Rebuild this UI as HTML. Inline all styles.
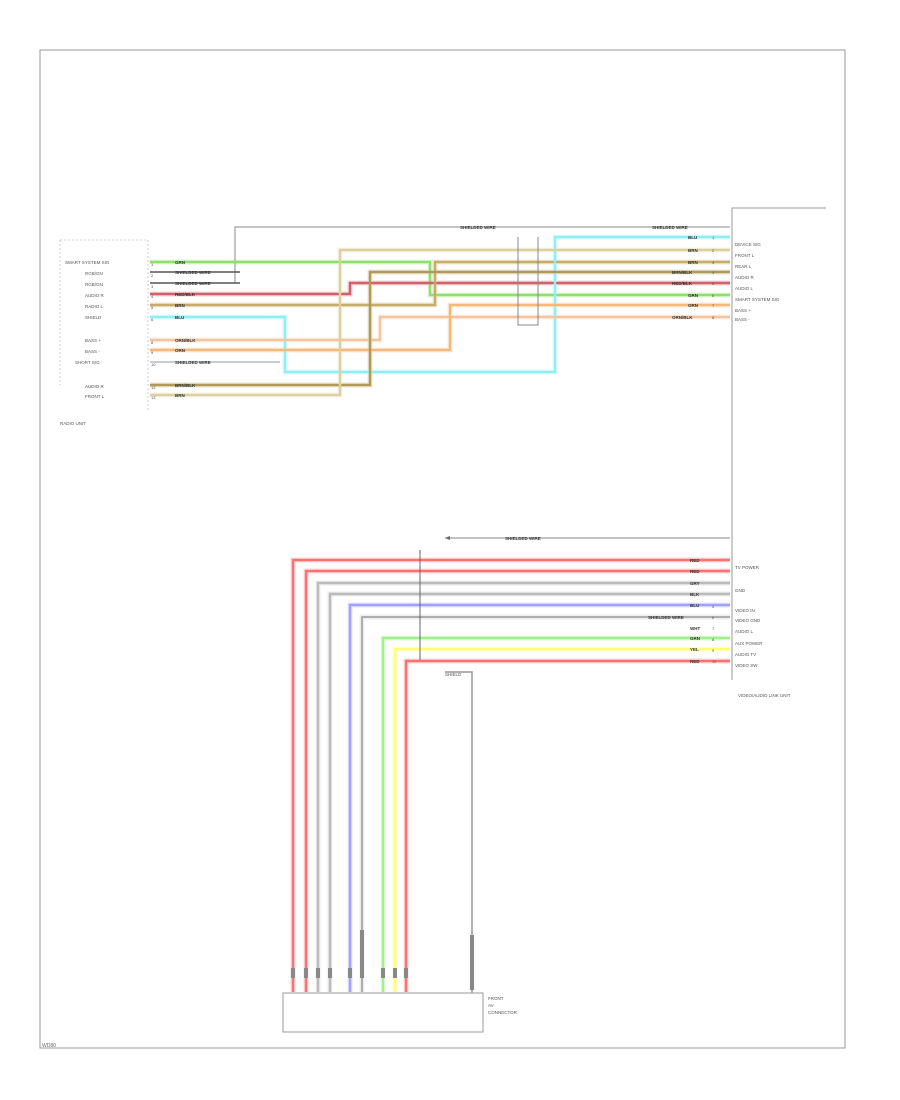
<!DOCTYPE html>
<html><head><meta charset="utf-8"><style>
html,body{margin:0;padding:0;background:#fff;}
svg{display:block;font-family:"Liberation Sans",sans-serif;}
</style></head><body>
<svg width="900" height="1100" viewBox="0 0 900 1100" xmlns="http://www.w3.org/2000/svg">
<rect x="40" y="50" width="805" height="998" fill="none" stroke="#999" stroke-width="1"/>
<text x="42" y="1047" font-size="5" fill="#666">WD80</text>
<line x1="148" y1="240" x2="148" y2="410" stroke="#ccc" stroke-dasharray="2,2"/>
<line x1="60" y1="240" x2="148" y2="240" stroke="#ccc" stroke-dasharray="2,2"/>
<line x1="60" y1="240" x2="60" y2="385" stroke="#ccc" stroke-dasharray="2,2"/>
<g font-size="4.5" fill="#555">
<text x="65" y="264">SMART SYSTEM SIG</text><text x="85" y="275">RGB/GN</text><text x="85" y="286">RGB/GN</text>
<text x="85" y="297">AUDIO R</text><text x="85" y="308">RADIO L</text><text x="85" y="319">SHIELD</text>
<text x="85" y="342">BASS +</text><text x="85" y="353">BASS -</text><text x="75" y="364">SHORT SIG</text>
<text x="85" y="388">AUDIO R</text><text x="85" y="398">FRONT L</text><text x="60" y="425">RADIO UNIT</text>
<text x="735" y="246">DEVICE SIG</text><text x="735" y="257">FRONT L</text><text x="735" y="268">REAR L</text>
<text x="735" y="279">AUDIO R</text><text x="735" y="290">AUDIO L</text><text x="735" y="301">SMART SYSTEM SIG</text>
<text x="735" y="312">BASS +</text><text x="735" y="321">BASS -</text>
<text x="735" y="569">TV POWER</text><text x="735" y="592">GND</text><text x="735" y="612">VIDEO IN</text>
<text x="735" y="622">VIDEO GND</text><text x="735" y="633">AUDIO L</text><text x="735" y="645">AUX POWER</text>
<text x="735" y="656">AUDIO TV</text><text x="735" y="667">VIDEO SW</text>
<text x="738" y="697">VIDEO/AUDIO LINK UNIT</text>
<text x="445" y="676">SHIELD</text>
<text x="488" y="1000">FRONT</text><text x="488" y="1007">AV</text><text x="488" y="1014">CONNECTOR</text>
</g>
<path d="M826 208 H732 V680" fill="none" stroke="#999"/>
<g fill="none" stroke-width="5" opacity="0.25">
<path d="M150 262 H430 V295 H730" stroke="#8ee06a"/>
<path d="M150 294 H350 V283 H730" stroke="#d0606a"/>
<path d="M150 305 H435 V262 H730" stroke="#c8aa6a"/>
<path d="M150 317 H285 V372 H555 V237 H730" stroke="#8ef0f4"/>
<path d="M150 340 H380 V317 H730" stroke="#f4c4a0"/>
<path d="M150 350 H450 V305 H730" stroke="#f4b878"/>
<path d="M150 385 H370 V272 H730" stroke="#b09a58"/>
<path d="M150 395 H340 V250 H730" stroke="#ddd0a0"/>
<path d="M730 560 H293 V992" stroke="#ff7070"/>
<path d="M730 571 H306 V992" stroke="#ff7070"/>
<path d="M730 583 H318 V992" stroke="#bbb"/>
<path d="M730 594 H330 V992" stroke="#bbb"/>
<path d="M730 605 H350 V992" stroke="#a0a0ff"/>
<path d="M730 617 H362 V992" stroke="#bbb"/>
<path d="M730 638 H383 V992" stroke="#a0f090"/>
<path d="M730 649 H395 V992" stroke="#ffff70"/>
<path d="M730 661 H406 V992" stroke="#ff7070"/>
</g>
<g fill="none" stroke-width="2.4">
<path d="M235 283 V227 H730" stroke="#888" stroke-width="1"/>
<path d="M150 262 H430 V295 H730" stroke="#8ee06a"/>
<path d="M150 272 H240" stroke="#555" stroke-width="1.5"/>
<path d="M150 283 H240" stroke="#555" stroke-width="1.5"/>
<path d="M150 294 H350 V283 H730" stroke="#d0606a"/>
<path d="M150 305 H435 V262 H730" stroke="#c8aa6a"/>
<path d="M150 317 H285 V372 H555 V237 H730" stroke="#8ef0f4"/>
<path d="M150 340 H380 V317 H730" stroke="#f4c4a0"/>
<path d="M150 350 H450 V305 H730" stroke="#f4b878"/>
<path d="M150 362 H280" stroke="#bbb" stroke-width="1.5"/>
<path d="M150 385 H370 V272 H730" stroke="#b09a58"/>
<path d="M150 395 H340 V250 H730" stroke="#ddd0a0"/>
<path d="M518 237 V325 H538 V237" stroke="#888" stroke-width="1"/>
<path d="M730 560 H293 V992" stroke="#ff7070"/>
<path d="M730 571 H306 V992" stroke="#ff7070"/>
<path d="M730 583 H318 V992" stroke="#bbb"/>
<path d="M730 594 H330 V992" stroke="#bbb"/>
<path d="M730 605 H350 V992" stroke="#a0a0ff"/>
<path d="M730 617 H362 V992" stroke="#999" stroke-width="1.5"/>
<path d="M730 638 H383 V992" stroke="#a0f090"/>
<path d="M730 649 H395 V992" stroke="#ffff70"/>
<path d="M730 661 H406 V992" stroke="#ff7070"/>
<path d="M420 550 V660" stroke="#666" stroke-width="1"/>
<path d="M445 538 H730" stroke="#888" stroke-width="1"/>
<path d="M445 672 H472 V993" stroke="#999" stroke-width="1.5"/>
</g>
<path d="M445 538 l5 -2 v4 z" fill="#666"/>
<!-- wire labels -->
<g font-size="4.5" fill="#333" font-weight="bold">
<text x="175" y="264">GRN</text><text x="175" y="274">SHIELDED WIRE</text><text x="175" y="285">SHIELDED WIRE</text>
<text x="175" y="296">RED/BLK</text><text x="175" y="307">BRN</text><text x="175" y="319">BLU</text>
<text x="175" y="342">ORN/BLK</text><text x="175" y="352">ORN</text><text x="175" y="364">SHIELDED WIRE</text>
<text x="175" y="387">BRN/BLK</text><text x="175" y="397">BRN</text>
<text x="460" y="229">SHIELDED WIRE</text><text x="652" y="229">SHIELDED WIRE</text>
<text x="688" y="239">BLU</text><text x="688" y="252">BRN</text><text x="688" y="264">BRN</text>
<text x="672" y="274">BRN/BLK</text><text x="672" y="285">RED/BLK</text><text x="688" y="297">GRN</text>
<text x="688" y="307">ORN</text><text x="672" y="319">ORN/BLK</text>
<text x="505" y="540">SHIELDED WIRE</text>
<text x="690" y="562">RED</text><text x="690" y="573">RED</text><text x="690" y="585">GRY</text>
<text x="690" y="596">BLK</text><text x="690" y="607">BLU</text><text x="648" y="619">SHIELDED WIRE</text>
<text x="690" y="630">WHT</text><text x="690" y="640">GRN</text><text x="690" y="651">YEL</text><text x="690" y="663">RED</text>
</g>
<g font-size="4" fill="#555">
<text x="151" y="266">1</text><text x="151" y="277">2</text><text x="151" y="288">3</text><text x="151" y="298">4</text>
<text x="151" y="309">5</text><text x="151" y="321">6</text><text x="151" y="344">8</text><text x="151" y="354">9</text>
<text x="151" y="366">10</text><text x="151" y="389">12</text><text x="151" y="399">13</text>
<text x="712" y="239">1</text><text x="712" y="252">2</text><text x="712" y="264">3</text><text x="712" y="274">4</text>
<text x="712" y="285">5</text><text x="712" y="297">6</text><text x="712" y="307">7</text><text x="712" y="319">8</text>
<text x="712" y="608">5</text><text x="712" y="619">6</text><text x="712" y="630">7</text><text x="712" y="641">8</text>
<text x="712" y="652">9</text><text x="712" y="663">10</text>
</g>
<g fill="#888">
<rect x="291" y="968" width="4" height="10"/><rect x="304" y="968" width="4" height="10"/>
<rect x="316" y="968" width="4" height="10"/><rect x="328" y="968" width="4" height="10"/>
<rect x="348" y="968" width="4" height="10"/><rect x="360" y="930" width="4" height="48"/>
<rect x="381" y="968" width="4" height="10"/><rect x="393" y="968" width="4" height="10"/>
<rect x="404" y="968" width="4" height="10"/><rect x="470" y="935" width="4" height="55"/>
</g>
<rect x="283" y="993" width="200" height="39" fill="#fff" stroke="#999"/>
</svg>
</body></html>
